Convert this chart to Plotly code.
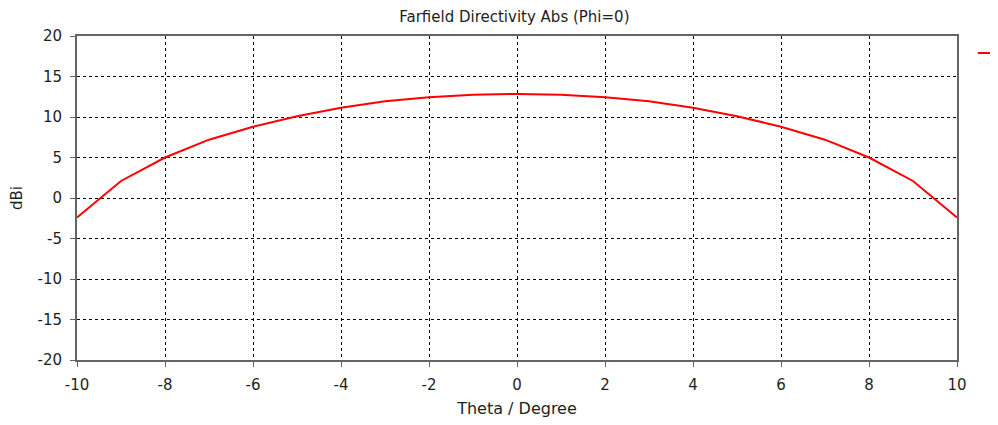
import plotly.graph_objects as go

theta = [-10, -9, -8, -7, -6, -5, -4, -3, -2, -1, 0, 1, 2, 3, 4, 5, 6, 7, 8, 9, 10]
directivity = [-2.4, 2.1, 5.0, 7.2, 8.8, 10.1, 11.15, 11.95, 12.45, 12.75, 12.85,
               12.75, 12.45, 11.95, 11.15, 10.1, 8.8, 7.2, 5.0, 2.1, -2.4]
x_ticks = [-10, -8, -6, -4, -2, 0, 2, 4, 6, 8, 10]
x_labels = ["-10", "-8", "-6", "-4", "-2", "0", "2", "4", "6", "8", "10"]
y_ticks = [-20, -15, -10, -5, 0, 5, 10, 15, 20]
y_labels = ["-20", "-15", "-10", "-5", "0", "5", "10", "15", "20"]

fig = go.Figure()
fig.add_trace(go.Scatter(x=theta, y=directivity, mode="lines", name=" ",
                         line=dict(color="#ff0000", width=2)))

font = "DejaVu Sans"
txt = "#1e1e1e"
axis_common = dict(showline=True, linecolor="#646464", linewidth=2, mirror=True,
                   ticks="outside", ticklen=5, tickcolor="#646464", tickwidth=1,
                   showgrid=True, gridcolor="#000000", gridwidth=1, griddash="3px,3px",
                   zeroline=False, tickfont=dict(family=font, size=15, color=txt))

fig.update_layout(
    width=998, height=425,
    margin=dict(l=69, r=49, t=28, b=73, autoexpand=False),
    paper_bgcolor="white", plot_bgcolor="white",
    title=dict(text="Farfield Directivity Abs (Phi=0)", x=0.497, xanchor="center",
               xref="paper", y=1 - 9/425, yanchor="middle",
               font=dict(family=font, size=15, color=txt)),
    xaxis=dict(range=[-10, 10], tickvals=x_ticks, ticktext=x_labels, ticklabelstandoff=5,
               title=dict(text="Theta / Degree", font=dict(family=font, size=16, color=txt), standoff=10),
               **axis_common),
    yaxis=dict(range=[-20, 20], tickvals=y_ticks, ticktext=y_labels, ticklabelstandoff=5,
               title=dict(text="dBi", font=dict(family=font, size=15, color=txt), standoff=14),
               **axis_common),
    showlegend=True,
    legend=dict(x=1.018, xanchor="left", y=0.992, yanchor="top", bgcolor="rgba(0,0,0,0)",
                font=dict(family=font, size=12)),
)

fig.write_html("out.html")
